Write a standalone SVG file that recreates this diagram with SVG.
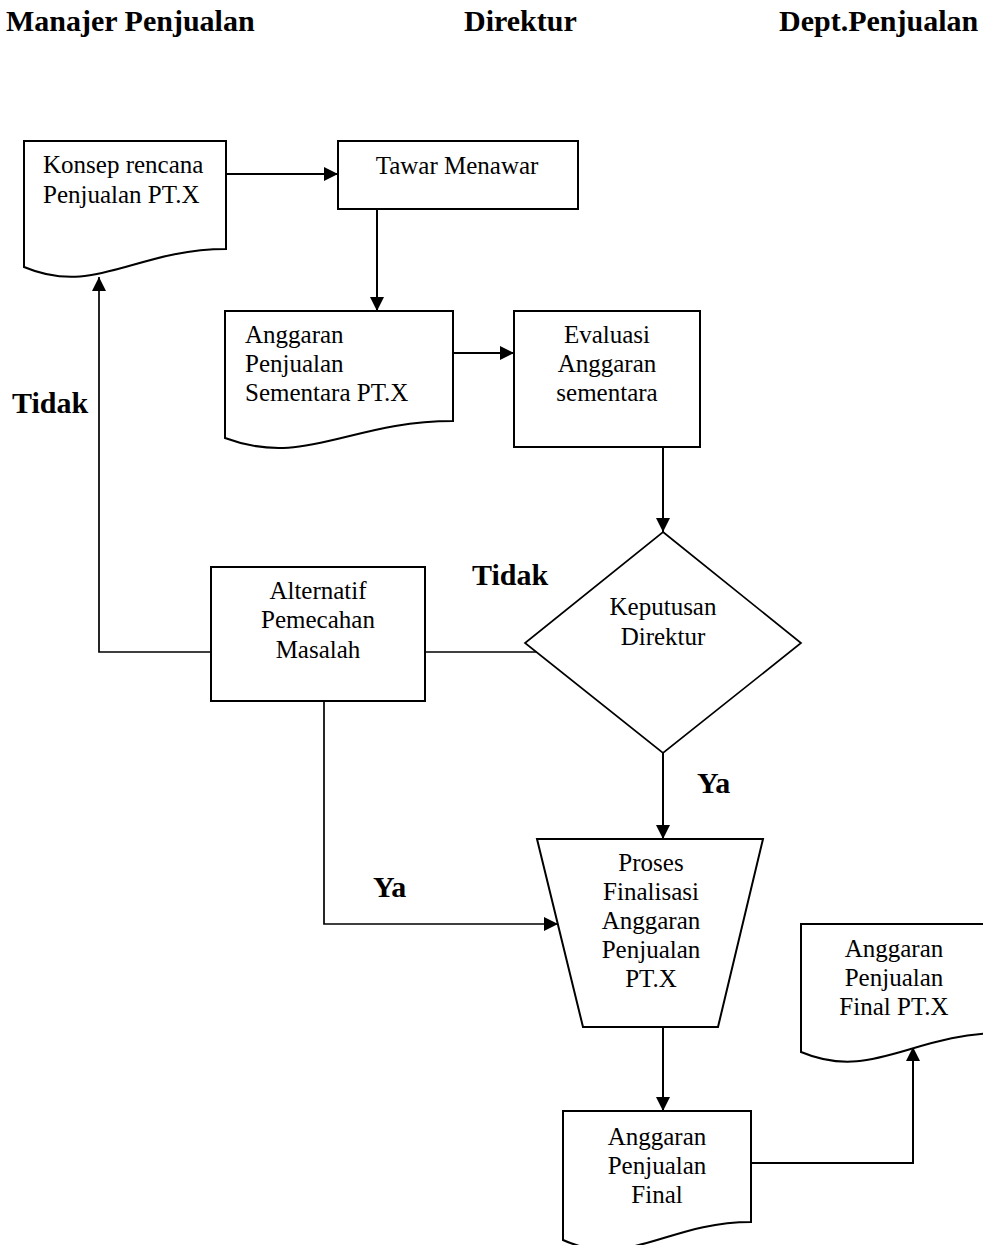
<svg xmlns="http://www.w3.org/2000/svg" width="983" height="1245" viewBox="0 0 983 1245">
<style>
.shape{fill:#fff;stroke:#000;stroke-width:2}
.thin{fill:#fff;stroke:#000;stroke-width:1.7}
.t{font-family:"Liberation Serif","Times New Roman",serif;font-size:25px;fill:#000}
.c{text-anchor:middle}
.b{font-family:"Liberation Serif","Times New Roman",serif;font-size:30px;font-weight:bold;fill:#000}
.ln{fill:none;stroke:#000;stroke-width:2}
.ln2{fill:none;stroke:#000;stroke-width:1.7}
</style>
<defs>
<marker id="ah" markerUnits="userSpaceOnUse" markerWidth="14" markerHeight="14" viewBox="0 0 14 14" refX="14" refY="7" orient="auto">
<path d="M0,0 L14,7 L0,14 Z" fill="#000"/>
</marker>
</defs>
<rect width="983" height="1245" fill="#fff"/>
<g id="headers">
<text class="b" x="6" y="31">Manajer Penjualan</text>
<text class="b" x="464" y="31">Direktur</text>
<text class="b" x="779" y="31">Dept.Penjualan</text>
</g>
<g id="connectors">
<path class="ln" d="M226,174 H338" marker-end="url(#ah)"/>
<path class="ln" d="M377,209 V311" marker-end="url(#ah)"/>
<path class="ln" d="M453,353 H514" marker-end="url(#ah)"/>
<path class="ln" d="M663,447 V532" marker-end="url(#ah)"/>
<path class="ln2" d="M425,652 H538"/>
<path class="ln2" d="M211,652 H99 V277" marker-end="url(#ah)"/>
<path class="ln2" d="M324,701 V924 H558" marker-end="url(#ah)"/>
<path class="ln" d="M663,753 V839" marker-end="url(#ah)"/>
<path class="ln" d="M663,1027 V1111" marker-end="url(#ah)"/>
<path class="ln" d="M751,1163 H913 V1047" marker-end="url(#ah)"/>
</g>
<g id="konsep">
<path class="shape" d="M24,141 H226 V249 C135,249 95,297 24,267 Z"/>
<text class="t" x="43" y="173">Konsep rencana</text>
<text class="t" x="43" y="203">Penjualan PT.X</text>
</g>
<g id="tawar">
<rect class="shape" x="338" y="141" width="240" height="68"/>
<text class="t c" x="457" y="174">Tawar Menawar</text>
</g>
<g id="anggaran-sementara">
<path class="shape" d="M225,311 H453 V421 C350,421 305,468 225,438 Z"/>
<text class="t" x="245" y="343">Anggaran</text>
<text class="t" x="245" y="372">Penjualan</text>
<text class="t" x="245" y="401">Sementara PT.X</text>
</g>
<g id="evaluasi">
<rect class="shape" x="514" y="311" width="186" height="136"/>
<text class="t c" x="607" y="343">Evaluasi</text>
<text class="t c" x="607" y="372">Anggaran</text>
<text class="t c" x="607" y="401">sementara</text>
</g>
<g id="keputusan">
<path class="thin" d="M663,532 L801,643 L663,753 L525,643 Z"/>
<text class="t c" x="663" y="615">Keputusan</text>
<text class="t c" x="663" y="645">Direktur</text>
</g>
<g id="alternatif">
<rect class="shape" x="211" y="567" width="214" height="134"/>
<text class="t c" x="318" y="599">Alternatif</text>
<text class="t c" x="318" y="628">Pemecahan</text>
<text class="t c" x="318" y="658">Masalah</text>
</g>
<g id="labels">
<text class="b" x="12" y="413">Tidak</text>
<text class="b" x="472" y="585">Tidak</text>
<text class="b" x="697" y="793">Ya</text>
<text class="b" x="373" y="897">Ya</text>
</g>
<g id="proses">
<path class="shape" d="M537,839 H763 L718,1027 H583 Z"/>
<text class="t c" x="651" y="871">Proses</text>
<text class="t c" x="651" y="900">Finalisasi</text>
<text class="t c" x="651" y="929">Anggaran</text>
<text class="t c" x="651" y="958">Penjualan</text>
<text class="t c" x="651" y="987">PT.X</text>
</g>
<g id="final-ptx">
<path class="shape" d="M801,924 H1003 V1033 C912,1033 872,1082 801,1052 Z"/>
<text class="t c" x="894" y="957">Anggaran</text>
<text class="t c" x="894" y="986">Penjualan</text>
<text class="t c" x="894" y="1015">Final PT.X</text>
</g>
<g id="final">
<path class="shape" d="M563,1111 H751 V1222 C666,1222 629,1270 563,1240 Z"/>
<text class="t c" x="657" y="1145">Anggaran</text>
<text class="t c" x="657" y="1174">Penjualan</text>
<text class="t c" x="657" y="1203">Final</text>
</g>
</svg>
